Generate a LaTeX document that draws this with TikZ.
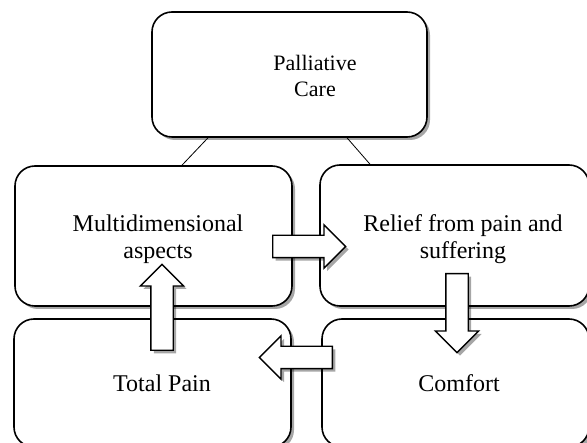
\documentclass[tikz,border=0pt]{standalone}
\usepackage{fontspec}
\setmainfont{Liberation Serif}
\usepackage{tikz}
\usetikzlibrary{calc,shadows,shapes.arrows}

\begin{document}
\begin{tikzpicture}[x=1pt, y=-1pt,
    card/.style={draw, line width=1.6pt, rounded corners=20pt, fill=white,
      drop shadow={shadow xshift=3pt, shadow yshift=-3pt, opacity=0.35, fill=black}},
    boxtext/.style={align=center, font=\fontsize{24}{27.5}\selectfont},
    fatarrow/.style={single arrow, draw, line width=1.4pt, fill=white, anchor=tail,
      inner sep=10.5pt, single arrow head extend=10.5pt, single arrow head indent=0pt,
      drop shadow={shadow xshift=3pt, shadow yshift=-3pt, opacity=0.35, fill=black}}]
    \useasboundingbox (0,0) rectangle (587,443);
    \clip (0,0) rectangle (587,443); % Boxes on the right run off the page
    \coordinate (PCCentre)      at (289.5,74.5);
    \coordinate (MultiCentre)   at (153.5,236);
    \coordinate (ReliefCentre)  at (454.5,235.5);
    \coordinate (PainCentre)    at (152.5,383);
    \coordinate (ComfortCentre) at (455.5,383);

    \node[card, minimum width=275pt, minimum height=125pt] (pc) at (PCCentre) {};
    \node[card, minimum width=277pt, minimum height=140pt] (multi) at (MultiCentre) {};
    \node[card, minimum width=269pt, minimum height=141pt] (relief) at (ReliefCentre) {};
    \node[card, minimum width=277pt, minimum height=128pt] (pain) at (PainCentre) {};
    \node[card, minimum width=267pt, minimum height=128pt] (comfort) at (ComfortCentre) {};

    % The two thin lines under the top box
    \draw [line width=0.8pt] ([xshift=-81.5pt]pc.south) -- ([xshift=28.5pt]multi.north);
    \draw [line width=0.8pt] ([xshift=57.5pt]pc.south) -- ([xshift=-84.5pt]relief.north);

    % Texts, set where the picture has them
    \node[boxtext, font=\fontsize{22}{26}\selectfont] (pc-t) at (315,76) {Palliative\\Care};
    \node[boxtext] (multi-t) at (158,239) {Multidimensional\\aspects};
    \node[boxtext] (relief-t) at (463,239) {Relief from pain and\\suffering};
    \node[boxtext] (pain-t) at (162,383) {Total Pain};
    \node[boxtext] (comfort-t) at (459,383) {Comfort};

    % Block arrows going round the cycle, placed by their tails
    \node[fatarrow, minimum height=73pt] (toRelief) at (272,246.5) {};
    \node[fatarrow, minimum height=79pt, shape border rotate=270] (toComfort) at (457,273) {};
    \node[fatarrow, minimum height=73pt, shape border rotate=180] (toPain) at (333,357.5) {};
    \node[fatarrow, minimum height=86pt, shape border rotate=90] (toMulti) at (162,351) {};
\end{tikzpicture}
\end{document}
